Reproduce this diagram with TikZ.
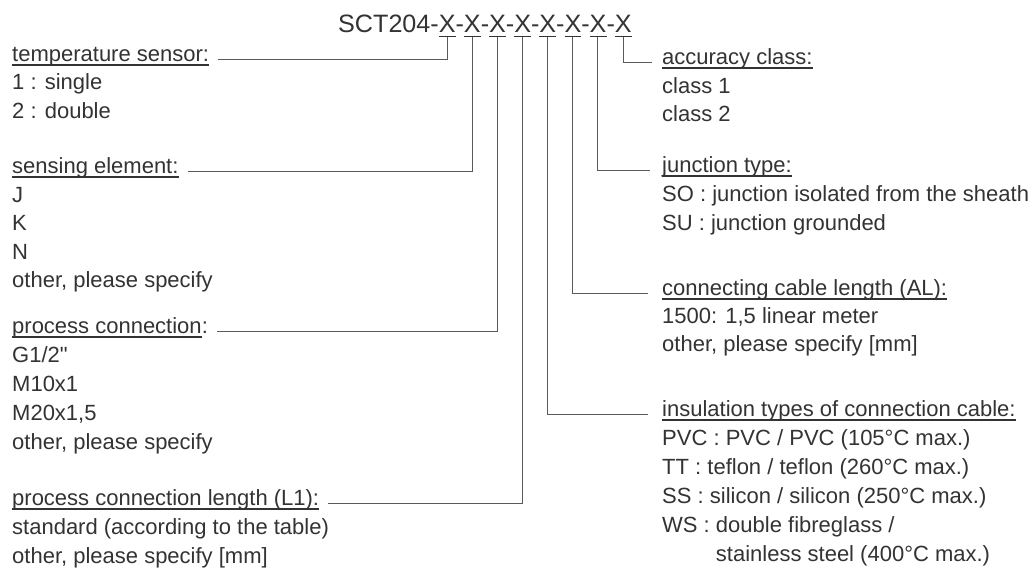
\documentclass[tikz,border=0pt]{standalone}
\usepackage{fontspec}
\setmainfont{Liberation Sans}
\usepackage{xcolor}
\definecolor{textgray}{HTML}{333333}
\definecolor{linegray}{HTML}{5A5A5A}
\usepackage{tikz}
\usetikzlibrary{positioning, calc}
\newsavebox{\ulbox}
\newcommand{\hul}[1]{\sbox{\ulbox}{#1}\rlap{\rule[-4pt]{\wd\ulbox}{1.4pt}}\usebox{\ulbox}}
\tikzset{
  lbl/.style={anchor=mid west, inner sep=0pt, text=textgray,
              font=\fontsize{22}{26}\selectfont},
  hdr/.style={lbl},
  code/.style={inner sep=0pt, text=textgray,
               font=\fontsize{25.15}{30}\selectfont},
  conn/.style={draw=linegray, line width=0.9pt},
}

\begin{document}
\begin{tikzpicture}[x=1pt, y=-1pt]
  \path[fill=white, use as bounding box] (0,0) rectangle (1034,575);

  % order code
  \node[code, anchor=base west] (code) at (338,33)
    {SCT204-\hul{X}-\hul{X}-\hul{X}-\hul{X}-\hul{X}-\hul{X}-\hul{X}-\hul{X}};
  \foreach \i in {1,...,8}
    \coordinate (x\i) at ($(code.base west)+({109+25.15*(\i-1)},4)$);

  % left column
  \node[hdr] (tsens) at (12,59) {\hul{temperature sensor:}};
  \foreach \t [count=\i] in {1 : single, 2 : double}
    \node[lbl] (tsens\i) at (12,59+28.3*\i) {\t};

  \node[hdr] (selem) at (12,171) {\hul{sensing element:}};
  \foreach \t [count=\i] in {J, K, N, {other, please specify}}
    \node[lbl] (selem\i) at (12,171+28.5*\i) {\t};

  \node[hdr] (pconn) at (12,331) {\hul{process connection}:};
  \foreach \t [count=\i] in {G1/2\textquotedbl, M10x1, {M20x1,5}, {other, please specify}}
    \node[lbl] (pconn\i) at (12,331+29*\i) {\t};

  \node[hdr] (plen) at (12,503) {\hul{process connection length (L1):}};
  \foreach \t [count=\i] in {standard (according to the table), {other, please specify [mm]}}
    \node[lbl] (plen\i) at (12,503+29*\i) {\t};

  % right column
  \node[hdr] (accl) at (662,62) {\hul{accuracy class:}};
  \foreach \t [count=\i] in {class 1, class 2}
    \node[lbl] (accl\i) at (662,62+28.5*\i) {\t};

  \node[hdr] (junc) at (662,170) {\hul{junction type:}};
  \foreach \t [count=\i] in {SO : junction isolated from the sheath, SU : junction grounded}
    \node[lbl] (junc\i) at (662,170+29*\i) {\t};

  \node[hdr] (cable) at (662,293) {\hul{connecting cable length (AL):}};
  \foreach \t [count=\i] in {{1500: 1,5 linear meter}, {other, please specify [mm]}}
    \node[lbl] (cable\i) at (662,293+28*\i) {\t};

  \node[hdr] (insul) at (662,414) {\hul{insulation types of connection cable:}};
  \foreach \t [count=\i] in {PVC : PVC / PVC (105°C max.),
                             TT : teflon / teflon (260°C max.),
                             SS : silicon / silicon (250°C max.),
                             WS : double fibreglass /,
                             {\phantom{WS : }stainless steel (400°C max.)}}
    \node[lbl] (insul\i) at (662,414+29*\i) {\t};

  % connectors
  \draw[conn] (x1) |- ([xshift=9pt]tsens.mid east);
  \draw[conn] (x2) |- ([xshift=9pt]selem.mid east);
  \draw[conn] (x3) |- ([xshift=9pt]pconn.mid east);
  \draw[conn] (x4) |- ([xshift=9pt]plen.mid east);
  \draw[conn] (x5) |- ([xshift=-14pt]insul.mid west);
  \draw[conn] (x6) |- ([xshift=-14pt]cable.mid west);
  \draw[conn] (x7) |- ([xshift=-12pt]junc.mid west);
  \draw[conn] (x8) |- ([xshift=-10pt]accl.mid west);
\end{tikzpicture}
\end{document}
